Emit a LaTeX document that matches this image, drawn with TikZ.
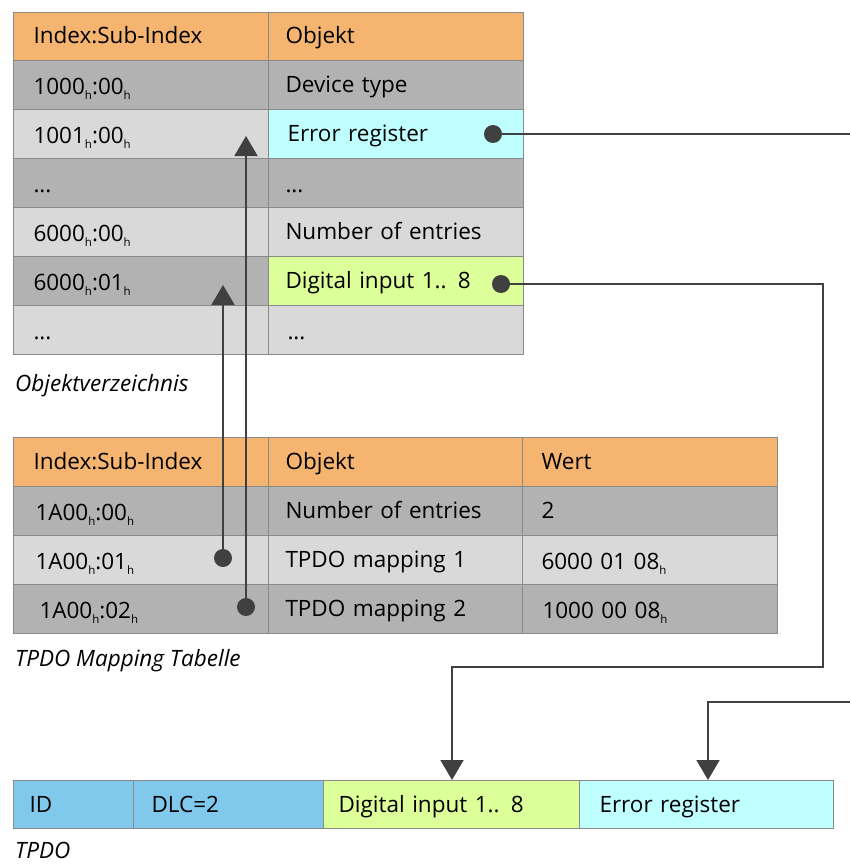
\documentclass[tikz,border=0pt]{standalone}
\usepackage{fontspec}
\setmainfont{Open Sans}
\usetikzlibrary{arrows.meta}
\definecolor{hdr}{HTML}{F5B570}
\definecolor{dk}{HTML}{B2B2B2}
\definecolor{lt}{HTML}{D9D9D9}
\definecolor{cy}{HTML}{BFFFFF}
\definecolor{lm}{HTML}{DDFF99}
\definecolor{bl}{HTML}{80C8EC}
\definecolor{bd}{HTML}{8A8A8A}
\definecolor{ln}{HTML}{404040}
\newcommand\hh{\raisebox{-5pt}{\fontsize{11.5}{12}\selectfont h}}
\tikzset{
  cell/.style 2 args={draw=bd, line width=1pt, anchor=north west, minimum height=#2,
    inner ysep=0pt, inner xsep=0pt, align=left, text height=19pt, text depth=4pt,
    font=\fontsize{22.5}{25}\selectfont, fill=#1},
  cw/.style={minimum width=#1, text width=#1},
  idx/.style={text height=21pt, text depth=2pt},
  captxt/.style={anchor=base west, inner sep=0pt, font=\fontsize{22.5}{25}\selectfont\itshape},
  dot/.style={circle, fill=ln, minimum size=18pt, inner sep=0pt},
  arr/.style={draw=ln, line width=2pt, -{Triangle[width=23pt,length=20pt]}},
  lnk/.style={draw=ln, line width=2pt},
}
\begin{document}
\begin{tikzpicture}[x=1pt,y=-1pt]
\useasboundingbox (0,0) rectangle (850,864);
% ---------- Objektverzeichnis ----------
\node[cell={hdr}{48pt}, cw=255pt] (h1a) at (13,12) {\hspace*{20pt}Index:Sub-Index};
\node[cell={hdr}{48pt}, cw=255pt] (h1b) at (268,12) {\hspace*{17pt}Objekt};
\node[cell={dk}{49pt}, cw=255pt, idx] (r1a) at (13,60) {\hspace*{20pt}1000\hh:00\hh};
\node[cell={dk}{49pt}, cw=255pt] (r1b) at (268,60) {\hspace*{17pt}Device type};
\node[cell={lt}{49pt}, cw=255pt, idx] (r2a) at (13,109) {\hspace*{20pt}1001\hh:00\hh};
\node[cell={cy}{49pt}, cw=255pt] (r2b) at (268,109) {\hspace*{19pt}Error register};
\node[cell={dk}{49pt}, cw=255pt, idx] (r3a) at (13,158) {\hspace*{20pt}...};
\node[cell={dk}{49pt}, cw=255pt, idx] (r3b) at (268,158) {\hspace*{17pt}...};
\node[cell={lt}{49pt}, cw=255pt, idx] (r4a) at (13,207) {\hspace*{20pt}6000\hh:00\hh};
\node[cell={lt}{49pt}, cw=255pt] (r4b) at (268,207) {\hspace*{17pt}Number of entries};
\node[cell={dk}{49pt}, cw=255pt, idx] (r5a) at (13,256) {\hspace*{20pt}6000\hh:01\hh};
\node[cell={lm}{49pt}, cw=255pt] (r5b) at (268,256) {\hspace*{17pt}Digital input 1.. 8};
\node[cell={lt}{49pt}, cw=255pt, idx] (r6a) at (13,305) {\hspace*{20pt}...};
\node[cell={lt}{49pt}, cw=255pt, idx] (r6b) at (268,305) {\hspace*{19pt}...};
\node[captxt] (c1) at (15,391) {Objektverzeichnis};
% ---------- TPDO Mapping Tabelle ----------
\node[cell={hdr}{49pt}, cw=255pt] (h2a) at (13,437) {\hspace*{20pt}Index:Sub-Index};
\node[cell={hdr}{49pt}, cw=254pt] (h2b) at (268,437) {\hspace*{17pt}Objekt};
\node[cell={hdr}{49pt}, cw=255pt] (h2c) at (522,437) {\hspace*{19pt}Wert};
\node[cell={dk}{49pt}, cw=255pt, idx] (s1a) at (13,486) {\hspace*{22pt}1A00\hh:00\hh};
\node[cell={dk}{49pt}, cw=254pt] (s1b) at (268,486) {\hspace*{17pt}Number of entries};
\node[cell={dk}{49pt}, cw=255pt] (s1c) at (522,486) {\hspace*{19pt}2};
\node[cell={lt}{49pt}, cw=255pt, idx] (s2a) at (13,535) {\hspace*{22pt}1A00\hh:01\hh};
\node[cell={lt}{49pt}, cw=254pt] (s2b) at (268,535) {\hspace*{17pt}TPDO mapping 1};
\node[cell={lt}{49pt}, cw=255pt, idx] (s2c) at (522,535) {\hspace*{19pt}6000 01 08\hh};
\node[cell={dk}{49pt}, cw=255pt, idx] (s3a) at (13,584) {\hspace*{26pt}1A00\hh:02\hh};
\node[cell={dk}{49pt}, cw=254pt] (s3b) at (268,584) {\hspace*{17pt}TPDO mapping 2};
\node[cell={dk}{49pt}, cw=255pt, idx] (s3c) at (522,584) {\hspace*{20pt}1000 00 08\hh};
\node[captxt] (c2) at (15,666) {TPDO Mapping Tabelle};
% ---------- TPDO ----------
\node[cell={bl}{48pt}, cw=120pt] (t1) at (13,780) {\hspace*{16pt}ID};
\node[cell={bl}{48pt}, cw=190pt] (t2) at (133,780) {\hspace*{18pt}DLC=2};
\node[cell={lm}{48pt}, cw=256pt] (t3) at (323,780) {\hspace*{15pt}Digital input 1.. 8};
\node[cell={cy}{48pt}, cw=254pt] (t4) at (579,780) {\hspace*{20pt}Error register};
\node[captxt] (c3) at (15,858) {TPDO};
% ---------- connectors ----------
\node[dot] (d1) at (223,558) {};
\node[dot] (d2) at (246,607) {};
\node[dot] (d3) at (493,134) {};
\node[dot] (d4) at (501,284) {};
\coordinate (tip1) at (223,285);
\coordinate (tip2) at (246,136);
\coordinate (e1) at (851,134);
\coordinate (e2) at (851,702);
\coordinate (k1) at (823,284);
\coordinate (k2) at (823,667);
\coordinate (k3) at (452,667);
\coordinate (tip3) at (452,780);
\coordinate (k4) at (708,702);
\coordinate (tip4) at (708,780);
\draw[arr] (d1.center) -- (tip1);
\draw[arr] (d2.center) -- (tip2);
\draw[lnk] (d3.center) -- (e1);
\draw[arr] (d4.center) -- (k1) -- (k2) -- (k3) -- (tip3);
\draw[arr] (e2) -- (k4) -- (tip4);
\end{tikzpicture}
\end{document}
